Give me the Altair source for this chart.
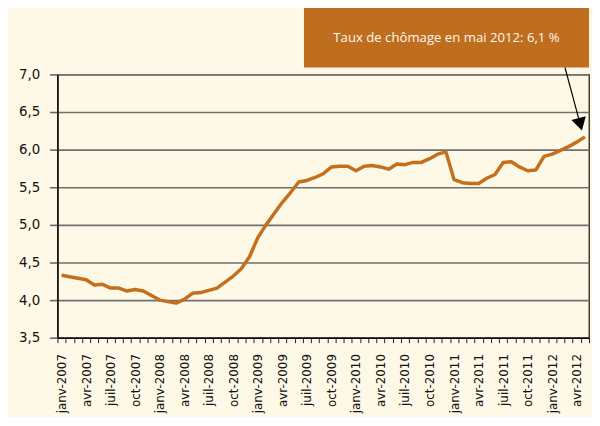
import json
import altair as alt
import pandas as pd

# ---- data -----------------------------------------------------------------
mois = ["janv", "févr", "mars", "avr", "mai", "juin",
        "juil", "août", "sept", "oct", "nov", "déc"]
annees = [2007, 2008, 2009, 2010, 2011, 2012]
periodes = [f"{m}-{a}" for a in annees for m in mois][:65]   # janv-2007 .. mai-2012

taux = [4.33, 4.31, 4.29, 4.27, 4.20, 4.21, 4.16, 4.16, 4.12, 4.14, 4.12, 4.06,
        4.00, 3.98, 3.96, 4.01, 4.09, 4.10, 4.13, 4.16, 4.24, 4.32, 4.42, 4.58,
        4.83, 5.00, 5.15, 5.30, 5.43, 5.57, 5.59, 5.63, 5.68, 5.77, 5.78, 5.78,
        5.72, 5.78, 5.79, 5.77, 5.74, 5.81, 5.80, 5.83, 5.83, 5.88, 5.94, 5.97,
        5.60, 5.56, 5.55, 5.55, 5.62, 5.67, 5.83, 5.84, 5.77, 5.72, 5.73, 5.91,
        5.94, 5.99, 6.04, 6.10, 6.17]

mois_etiquetes = ["janv", "avr", "juil", "oct"]
y_ticks = [3.5, 4.0, 4.5, 5.0, 5.5, 6.0, 6.5, 7.0]
annotation = ["Taux de chômage en mai 2012: 6,1 %"]

# ---- chart ----------------------------------------------------------------
df = pd.DataFrame({"periode": periodes, "taux": taux})
W, H = 537, 266

BG = "#FEF8E6"
ORANGE = "#C46F1D"
BOX = "#BF6D1F"

label_expr = ("indexof(" + json.dumps(mois_etiquetes) +
              ", split(datum.label, '-')[0]) >= 0 ? datum.label : ''")

line = alt.Chart(df).mark_line(color=ORANGE, strokeWidth=3.5, strokeJoin="round").encode(
    x=alt.X("periode:N", sort=periodes, bandPosition=0.5,
            scale=alt.Scale(type="band", paddingInner=0, paddingOuter=0),
            axis=alt.Axis(title=None, tickBand="extent", tickSize=5, tickColor="#222",
                          tickWidth=1, domainColor="#111", domainWidth=1.5,
                          labelAngle=270, labelAlign="right", labelBaseline="middle",
                          labelPadding=11, labelFont="DejaVu Sans", labelFontSize=12,
                          labelColor="#111", labelOverlap=False, labelExpr=label_expr,
                          grid=False)),
    y=alt.Y("taux:Q", scale=alt.Scale(domain=[3.5, 7.0], nice=False, zero=False),
            axis=alt.Axis(title=None, values=y_ticks, format=".1f",
                          labelExpr="replace(datum.label, '.', ',')",
                          grid=True, gridColor="#707070", gridWidth=1.6,
                          tickSize=8, tickColor="#666", tickWidth=1.6,
                          domainColor="#111", domainWidth=1.5, labelPadding=10,
                          labelFont="DejaVu Sans", labelFontSize=13.5,
                          labelColor="#111")),
)

ann_df = pd.DataFrame({"t": annotation})

box = alt.Chart(ann_df).mark_rect(color=BOX).encode(
    x=alt.value(249), x2=alt.value(537), y=alt.value(-68), y2=alt.value(-7))

txt = alt.Chart(ann_df).mark_text(font="Open Sans", fontSize=13.3, color="#FFF8EC",
                                  align="center", baseline="middle").encode(
    x=alt.value(393), y=alt.value(-37), text="t:N")

arrow = alt.Chart(ann_df).mark_rule(color="black", strokeWidth=1.2).encode(
    x=alt.value(512.7), y=alt.value(-7), x2=alt.value(527.6), y2=alt.value(48.4))

head = alt.Chart(ann_df).mark_point(shape="triangle", filled=True, color="black",
                                    opacity=1, size=225, angle=165).encode(
    x=alt.value(527.6), y=alt.value(48.4))

chart = alt.layer(line, box, txt, arrow, head).properties(
    width=W, height=H,
    autosize=alt.AutoSizeParams(type="none"),
    padding={"left": 50, "top": 65, "right": 3, "bottom": 78},
    background=BG,
).configure_view(stroke="#222", strokeWidth=1.3)

chart.save("out.html", embed_options={"renderer": "svg", "actions": False})
